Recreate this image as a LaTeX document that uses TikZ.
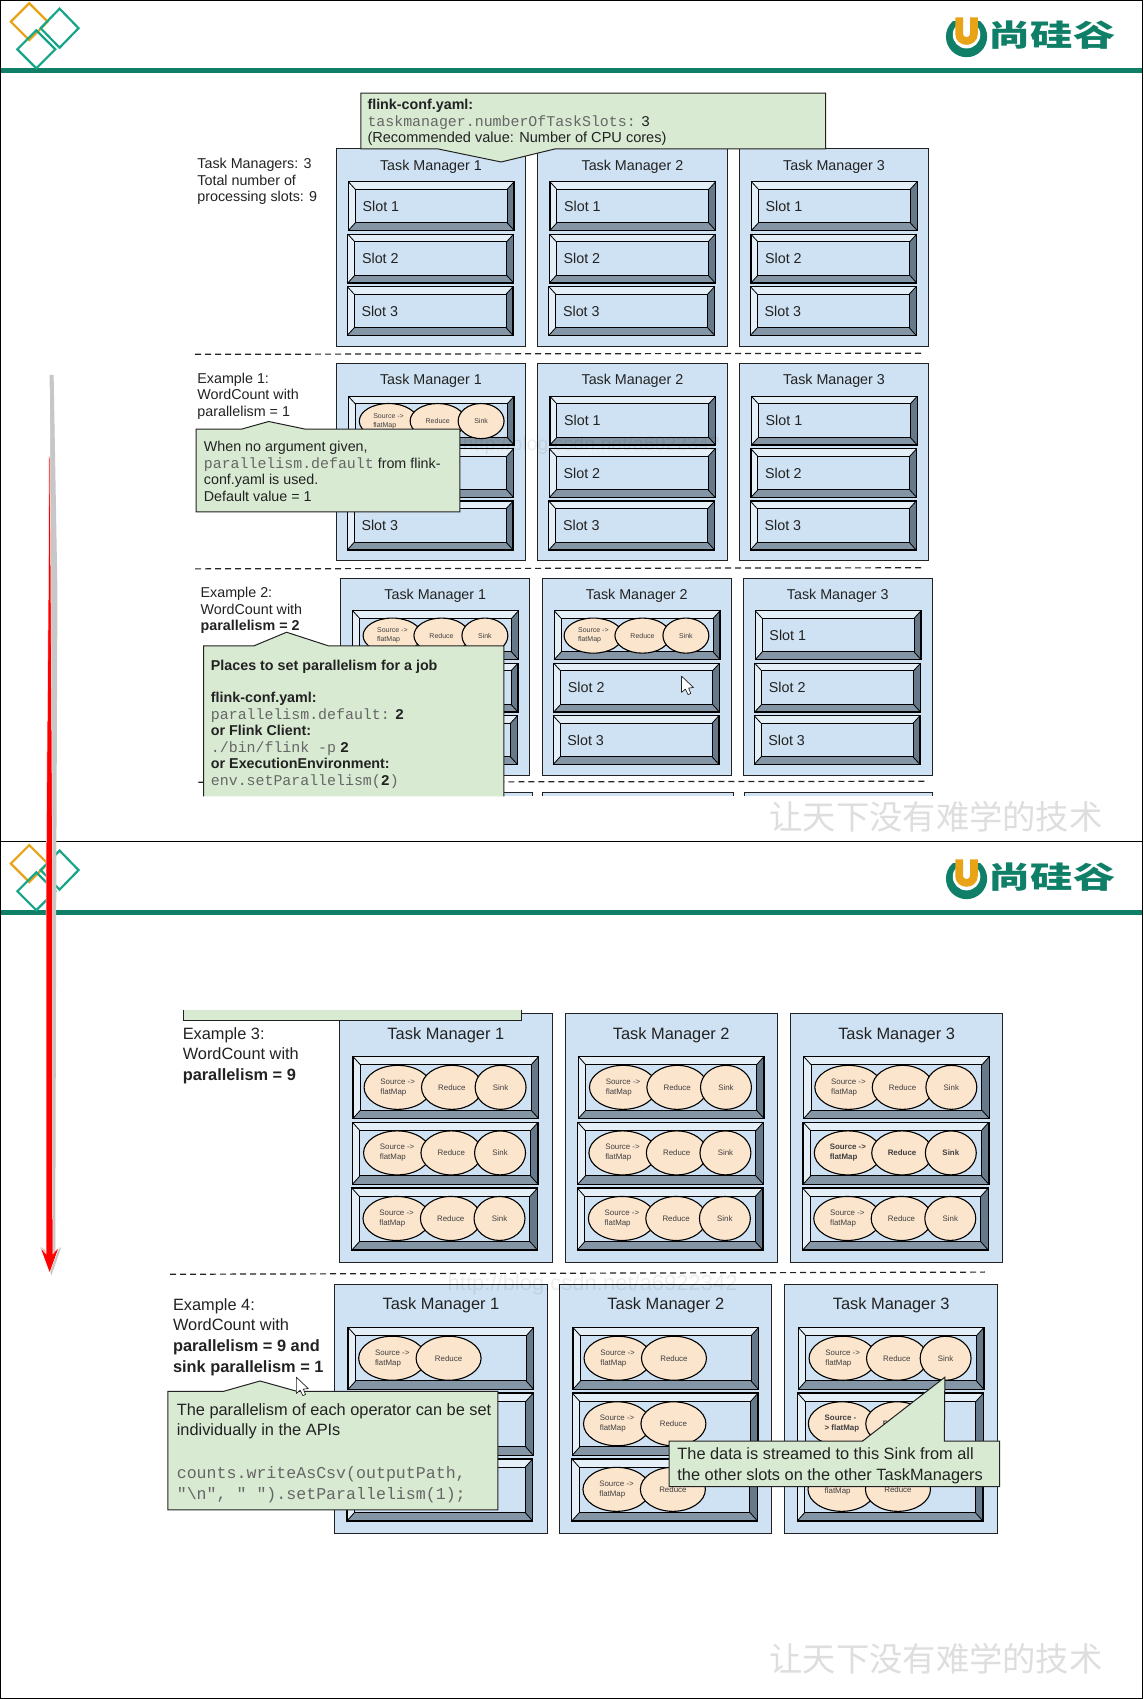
\documentclass[tikz,border=0pt]{standalone}
\usepackage{graphicx}
\usepackage{fontspec}
\setmainfont{Liberation Sans}
\setmonofont{Liberation Mono}
\newfontfamily\cjk{Noto Sans CJK SC}
\usetikzlibrary{shapes.geometric,calc}
\definecolor{tmblue}{HTML}{CFE2F3}
\definecolor{notegreen}{HTML}{D9EAD3}
\definecolor{opsand}{HTML}{FCE5CD}
\definecolor{bevdark}{HTML}{66798A}
\definecolor{bevmid}{HTML}{8496A5}
\definecolor{bevlight}{HTML}{E4EFF8}
\definecolor{barteal}{HTML}{0F7F68}
\definecolor{markteal}{HTML}{17A589}
\definecolor{logoamber}{HTML}{E8A317}
\definecolor{inkdark}{HTML}{222222}
\definecolor{codegray}{HTML}{666666}
\newcommand{\ux}{1.0834pt}
\newcommand{\codesmall}[1]{{\ttfamily\fontsize{14.9}{16.5}\selectfont\color{codegray}#1}}
\newcommand{\codebig}[1]{{\ttfamily\fontsize{16.6}{20.7}\selectfont\color{codegray}#1}}
\newcommand{\codenum}[1]{{\ttfamily\bfseries\fontsize{14.9}{16.5}\selectfont #1}}
\tikzset{
  tmbody/.style={draw=inkdark,fill=tmblue,line width=1pt,inner sep=0pt,anchor=north west},
  tmtop/.style={tmbody,minimum width=174.5*\ux,minimum height=182*\ux},
  tmbig/.style={tmbody,minimum width=196*\ux,minimum height=230*\ux},
  titletop/.style={text=inkdark,font=\fontsize{14.3}{16.5}\selectfont,inner sep=0pt},
  titlebig/.style={text=inkdark,font=\fontsize{16.4}{20}\selectfont,inner sep=0pt},
  slotbody/.style={draw=black,fill=tmblue,line width=1pt,inner sep=0pt},
  slotlabel/.style={text=inkdark,font=\fontsize{14.3}{16.5}\selectfont,inner sep=0pt,anchor=west},
  opnode/.style={ellipse,draw=black,fill=opsand,line width=1.1pt,inner sep=0pt,align=left,text=black!75},
  opsmall/.style={opnode,font=\fontsize{7}{9}\selectfont},
  opbig/.style={opnode,font=\fontsize{7.9}{10}\selectfont},
  leftnote/.style={text=inkdark,inner sep=0pt,align=left,anchor=north west},
  notesmall/.style={leftnote,font=\fontsize{14.3}{16.5}\selectfont},
  notebig/.style={leftnote,font=\fontsize{16.35}{20.7}\selectfont},
  callout/.style={draw=inkdark,fill=notegreen,line width=1pt,line join=miter},
  sepline/.style={dashed,dash pattern=on 6pt off 4pt,line width=1.2pt,draw=inkdark},
  diamondmark/.style={draw,line width=2.2pt,line join=miter},
  pointer/.style={draw=inkdark,fill=white,line width=.7pt,line join=round},
  urlmark/.style={text=black,text opacity=.07,inner sep=0pt,anchor=west},
  wordmark/.style={text=black!13,font=\cjk\fontsize{33.3}{33.3}\selectfont,inner sep=0pt,anchor=west},
}
% one slot: name, left, top, width, height, bevel x, bevel y
\newcommand{\slotbox}[7]{
  \pgfmathsetmacro\slotL{#2}
  \pgfmathsetmacro\slotT{#3}
  \pgfmathsetmacro\slotR{\slotL+#4}
  \pgfmathsetmacro\slotB{\slotT+#5}
  \fill[bevlight] (\slotL,\slotT) rectangle (\slotR,\slotB);
  \fill[bevmid] (\slotR,\slotB) -- (\slotL,\slotB) -- (\slotL+#6,\slotB-#7) -- (\slotR-#6,\slotB-#7) -- cycle;
  \fill[bevdark] (\slotR,\slotT) -- (\slotR,\slotB) -- (\slotR-#6,\slotB-#7) -- (\slotR-#6,\slotT+#7) -- cycle;
  \draw[black,line width=.8pt] (\slotL,\slotT) -- +(#6,#7) (\slotR,\slotT) -- +(-#6,#7)
    (\slotL,\slotB) -- +(#6,-#7) (\slotR,\slotB) -- +(-#6,-#7);
  \draw[black,line width=1.3pt] (\slotL,\slotT) rectangle (\slotR,\slotB);
  \node[slotbody,minimum width={(#4-2*#6)*\ux},minimum height={(#5-2*#7)*\ux}] (#1)
    at ({\slotL+#4/2},{\slotT+#5/2}) {};
}
% small slide slots, with the label only from slot number #4 on
\newcommand{\topslots}[4]{
  \foreach \s in {1,2,3} {
    \pgfmathsetmacro\slotX{#2+11.5-0.5*(\s-1)}
    \pgfmathsetmacro\slotY{#3+30.7+48.4*(\s-1)}
    \slotbox{#1s\s}{\slotX}{\slotY}{153}{45}{6.4}{7}
    \ifnum\s<#4\else
      \node[slotlabel] (#1l\s) at ($(#1s\s.west)+(7,0)$) {Slot \s};
    \fi
  }
}
\newcommand{\bigslots}[3]{
  \foreach \s in {1,2,3} {
    \pgfmathsetmacro\slotX{#2+12.7-0.5*(\s-1)}
    \pgfmathsetmacro\slotY{#3+40+60.7*(\s-1)}
    \slotbox{#1s\s}{\slotX}{\slotY}{171.4}{57.3}{7}{7.8}
  }
}
% the operators of one slot, x of the slot left edge and y of its middle
\newcommand{\opsmalls}[3]{
  \node[opsmall,minimum width=54*\ux,minimum height=32.4*\ux] (#1a) at (#2+36.6,#3) {Source ->\\flatMap};
  \node[opsmall,minimum width=51*\ux,minimum height=32.4*\ux] (#1b) at (#2+82,#3) {Reduce};
  \node[opsmall,minimum width=42.4*\ux,minimum height=32.4*\ux] (#1c) at (#2+122,#3) {Sink};
}
\newcommand{\opbigs}[4][]{
  \node[opbig,minimum width=62*\ux,minimum height=40.6*\ux,#1] (#2a) at (#3+41,#4) {Source ->\\flatMap};
  \node[opbig,minimum width=56*\ux,minimum height=40.6*\ux,#1] (#2b) at (#3+91,#4) {Reduce};
  \node[opbig,minimum width=47*\ux,minimum height=40.6*\ux,#1] (#2c) at (#3+136,#4) {Sink};
}
\newcommand{\optwo}[3]{
  \node[opbig,minimum width=62*\ux,minimum height=40.6*\ux] (#1a) at (#2+41,#3) {Source ->\\flatMap};
  \node[opbig,minimum width=60*\ux,minimum height=40.6*\ux] (#1b) at (#2+93,#3) {Reduce};
}
% slide header, y of its top as argument
\newcommand{\slidehead}[1]{
  \fill[barteal] (1,#1+62.5) rectangle (1055,#1+67);
  \draw[diamondmark,logoamber] (27,#1+3) -- (44,#1+20) -- (27,#1+37) -- (10,#1+20) -- cycle;
  \draw[diamondmark,markteal] (55,#1+8) -- (72.5,#1+26) -- (55,#1+44) -- (37.5,#1+26) -- cycle;
  \draw[diamondmark,markteal] (33.5,#1+28) -- (51,#1+45.5) -- (33.5,#1+63) -- (16,#1+45.5) -- cycle;
  \begin{scope}
    \clip (870,#1+19.6) rectangle (914,#1+56);
    \fill[barteal] (892,#1+33.8) circle[radius=19];
    \fill[white] (892,#1+32) circle[radius=12.7];
  \end{scope}
  \draw[logoamber,line width=7.8pt] (885.2,#1+16) -- (885.2,#1+31) .. controls (885.2,#1+40) and (898.8,#1+40) .. (898.8,#1+31) -- (898.8,#1+16);
  \node[text=barteal,font=\cjk\bfseries\fontsize{30}{30}\selectfont,inner sep=0pt,anchor=west] (logotext#1) at (912,#1+32.5) {\scalebox{1.41}[1]{尚硅谷}};
}

\begin{document}
\begin{tikzpicture}[x=1.0834pt,y=-1.0834pt]
  \useasboundingbox (0,0) rectangle (1055,1568);
  \fill[white] (0,0) rectangle (1055,1568);

  % Slide headers
  \slidehead{0}
  \slidehead{777}

  % Task managers and slots
  \foreach \tm/\tx in {1/310,2/496,3/682} {
    \node[tmtop] (a\tm) at (\tx,137) {};
    \node[titletop] (a\tm t) at ($(a\tm.north)+(0,16.5)$) {Task Manager \tm};
    \topslots{a\tm}{\tx}{137}{1}
  }
  \foreach \tm/\tx/\first in {1/310/3,2/496/1,3/682/1} {
    \node[tmtop] (b\tm) at (\tx,335) {};
    \node[titletop] (b\tm t) at ($(b\tm.north)+(0,16.5)$) {Task Manager \tm};
    \topslots{b\tm}{\tx}{335}{\first}
  }
  \foreach \tm/\tx/\first in {1/314/4,2/500/2,3/685.5/1} {
    \node[tmtop] (c\tm) at (\tx,533) {};
    \node[titletop] (c\tm t) at ($(c\tm.north)+(0,16.5)$) {Task Manager \tm};
    \topslots{c\tm}{\tx}{533}{\first}
  }
  \foreach \tm/\tx in {1/313,2/521,3/729} {
    \node[tmbig] (d\tm) at (\tx,935) {};
    \node[titlebig] (d\tm t) at ($(d\tm.north)+(0,20)$) {Task Manager \tm};
    \bigslots{d\tm}{\tx}{935}
  }
  \foreach \tm/\tx in {1/308.5,2/516,3/724} {
    \node[tmbig] (e\tm) at (\tx,1185) {};
    \node[titlebig] (e\tm t) at ($(e\tm.north)+(0,20)$) {Task Manager \tm};
    \bigslots{e\tm}{\tx}{1185}
  }
  % next managers, cut off by the slide
  \foreach \xa/\xb in {318/491,501/676.5,687/861} {
    \filldraw[tmblue,draw=inkdark,line width=1pt] (\xa,735) -- (\xa,731) -- (\xb,731) -- (\xb,735);
  }

  % Operators
  \opsmalls{opb}{322}{388.6}
  \opsmalls{opc}{325.5}{586.6}
  \opsmalls{opd}{511}{586.6}
  \foreach \tm/\tx in {1/326,2/534,3/742} {
    \opbigs{op\tm x}{\tx}{1003.5}
    \ifnum\tm=3
      \opbigs[font=\bfseries\fontsize{7.9}{10}\selectfont]{op\tm y}{\tx-0.5}{1064}
    \else
      \opbigs{op\tm y}{\tx-0.5}{1064}
    \fi
    \opbigs{op\tm z}{\tx-1}{1124.5}
  }
  \optwo{oe1x}{321}{1253.5}
  \optwo{oe2x}{529}{1253.5}
  \optwo{oe2y}{528.5}{1314}
  \optwo{oe2z}{528}{1374.5}
  \opbigs{oe3x}{736.7}{1253.5}
  \node[opbig,font=\bfseries\fontsize{7.9}{10}\selectfont,minimum width=62*\ux,minimum height=40.6*\ux] (oe3ya) at (777,1314) {Source -\\> flatMap};
  \node[opbig,font=\bfseries\fontsize{7.9}{10}\selectfont,minimum width=58*\ux,minimum height=40.6*\ux] (oe3yb) at (828,1314) {Reduce};
  \node[opbig,minimum width=62*\ux,minimum height=40.6*\ux] (oe3za) at (776.7,1374.5) {\mbox{}\\flatMap\phantom{xx}};
  \node[opbig,minimum width=60*\ux,minimum height=40.6*\ux] (oe3zb) at (828.7,1374.5) {Reduce};

  % Separators
  \draw[sepline] (180,327) -- (850,326);
  \draw[sepline] (180,525) -- (850,524);
  \draw[sepline] (183,722) -- (853,721);
  \draw[sepline] (157,1176) -- (909,1174);

  % Faint address marks
  \node[urlmark,font=\rmfamily\fontsize{19.5}{19.5}\selectfont] (urlb) at (427,411) {http://blog.csdn.net/a6922342};
  \node[urlmark,font=\rmfamily\fontsize{22}{22}\selectfont] (urla) at (413,1186) {http://blog.csdn.net/a6922342};

  % Left side texts
  \node[notesmall] (info) at (182,146) {Task Managers: 3\\Total number of\\processing slots: 9};
  \node[notesmall] (ex1) at (182,344) {Example 1:\\WordCount with\\parallelism = 1};
  \node[notesmall] (ex2) at (185,542) {Example 2:\\WordCount with\\\textbf{parallelism = 2}};
  \node[notebig] (ex3) at (168.5,948) {Example 3:\\WordCount with\\\textbf{parallelism = 9}};
  \node[notebig] (ex4) at (159.5,1198) {Example 4:\\WordCount with\\\textbf{parallelism = 9 and}\\\textbf{sink parallelism = 1}};

  % Notes
  \draw[callout] (333,137.5) -- (333,86) -- (762,86) -- (762,137.5) -- (512,137.5) -- (462.5,149.5) -- (404.5,137.5) -- cycle;
  \node[notesmall] (confnote) at (339,91.5) {\textbf{flink-conf.yaml:}\\[.6pt]\codesmall{taskmanager.numberOfTaskSlots:} {\ttfamily\fontsize{14.9}{16.5}\selectfont 3}\\[-1.2pt]{\fontsize{14.55}{16.5}\selectfont(Recommended value: Number of CPU cores)}};

  \draw[callout] (181,396) -- (223,396) -- (248,389) -- (281.5,396) -- (424.5,396) -- (424.5,472.5) -- (181,472.5) -- cycle;
  \node[notesmall] (defnote) at (188,407) {When no argument given,\\\codesmall{parallelism.default} from flink-\\conf.yaml is used.\\Default value = 1};

  \fill[callout,draw=none] (188,735) -- (188,596) -- (234.5,596) -- (264.5,583.5) -- (303,596) -- (465,596) -- (465,735);
  \draw[callout,fill=none] (188,735) -- (188,596) -- (234.5,596) -- (264.5,583.5) -- (303,596) -- (465,596) -- (465,735);
  \node[notesmall] (jobnote) at (194.5,609) {\textbf{Places to set parallelism for a job}\\[16pt]\textbf{flink-conf.yaml:}\\\codesmall{parallelism.default:} \codenum{2}\\\textbf{or Flink Client:}\\\codesmall{./bin/flink -p} \codenum{2}\\\textbf{or ExecutionEnvironment:}\\\codesmall{env.setParallelism(}\codenum{2}\codesmall{)}};
  \fill[white] (100,735.5) rectangle (1055,776);

  % Rest of that note on the second slide
  \fill[notegreen] (169.5,932.5) rectangle (481.5,942);
  \draw[inkdark,line width=1pt] (169.5,932.5) -- (169.5,942) -- (481.5,942) -- (481.5,932.5);

  \draw[callout] (155,1284) -- (206.5,1284) -- (240,1274.5) -- (274,1284) -- (459.5,1284) -- (459.5,1393.5) -- (155,1393.5) -- cycle;
  \node[notebig] (apinote) at (163,1295) {The parallelism of each operator can be set\\individually in the APIs\\[22pt]\codebig{counts.writeAsCsv(outputPath,}\\\codebig{"\textbackslash n", " ").setParallelism(1);}};

  \draw[callout] (617.5,1330) -- (796,1330) -- (872,1271) -- (871.5,1330) -- (922.5,1330) -- (922.5,1372) -- (617.5,1372) -- cycle;
  \node[notebig] (sinknote) at (625,1336) {The data is streamed to this Sink from all\\the other slots on the other TaskManagers};

  % Water marks
  \node[wordmark] (marktop) at (710,754) {让天下没有难学的技术};
  \node[wordmark] (markend) at (710,1531) {让天下没有难学的技术};

  % Mouse pointers
  \filldraw[pointer] (629,624) -- (629,639) -- (632.5,636) -- (635,641) -- (637.5,640) -- (635.5,635) -- (640,634.5) -- cycle;
  \filldraw[pointer] (273.5,1271) -- (273.5,1286) -- (277,1283) -- (279.5,1288) -- (282,1287) -- (280,1282) -- (284.5,1281.5) -- cycle;

  % Slide frame
  \draw[black,line width=1pt] (0.4,0.4) rectangle (1054.6,1567.6);
  \draw[black,line width=1pt] (0,777) -- (1055,777);

  % Arrow over both slides
  \fill[black!22] (45.6,346) -- (49.5,346) -- (53,545) -- (52,800) -- (51,1156) -- (56.5,1151) -- (47.5,1177) -- (38.5,1151) -- (44,1156) -- cycle;
  \filldraw[red,draw=white,line width=.5pt] (45.6,346) -- (47,545) -- (48.5,800) -- (48.7,1157) -- (54.5,1151) -- (45.8,1175) -- (37,1151) -- (42.5,1157) -- (42.5,800) -- (44.6,545) -- cycle;
\end{tikzpicture}
\end{document}
